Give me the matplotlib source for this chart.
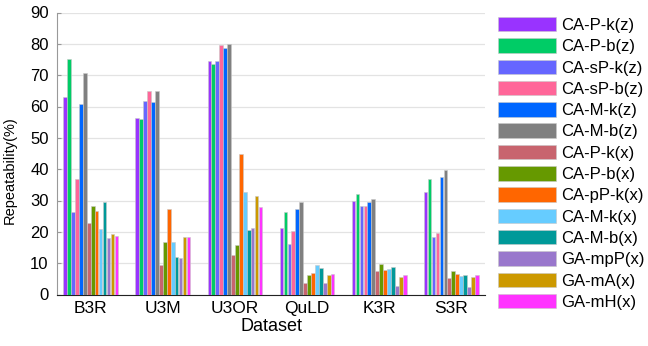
import matplotlib.pyplot as plt
import numpy as np

plt.rcParams["font.family"] = ["Liberation Sans", "DejaVu Sans"]

datasets = ["B3R", "U3M", "U3OR", "QuLD", "K3R", "S3R"]
methods = [
    "CA-P-k(z)", "CA-P-b(z)", "CA-sP-k(z)", "CA-sP-b(z)", "CA-M-k(z)", "CA-M-b(z)",
    "CA-P-k(x)", "CA-P-b(x)", "CA-pP-k(x)", "CA-M-k(x)", "CA-M-b(x)",
    "GA-mpP(x)", "GA-mA(x)", "GA-mH(x)",
]
colors = [
    "#9933ff", "#00cc66", "#6666ff", "#ff6699", "#0066ff", "#808080",
    "#c8646e", "#669900", "#ff6600", "#66ccff", "#009999",
    "#9977cc", "#cc9900", "#ff33ff",
]

# repeatability per method, one list per dataset (B3R, U3M, U3OR, QuLD, K3R, S3R)
b3r = [63.1, 75.1, 26.4, 36.9, 60.7, 70.6, 22.9, 28.3, 26.7, 21.0, 29.6, 18.1, 19.3, 18.8]
u3m = [56.2, 55.9, 61.7, 64.8, 61.4, 64.8, 9.3, 16.6, 27.4, 16.8, 11.9, 11.5, 18.4, 18.3]
u3or = [74.4, 73.6, 74.5, 79.5, 78.6, 80.0, 12.7, 15.8, 44.8, 32.8, 20.6, 21.3, 31.3, 27.9]
quld = [21.3, 26.4, 16.1, 20.4, 27.4, 29.5, 3.8, 6.3, 7.0, 9.5, 8.5, 3.7, 6.1, 6.6]
k3r = [30.0, 32.0, 28.1, 28.1, 29.4, 30.5, 7.6, 9.8, 7.9, 8.1, 8.7, 2.8, 5.5, 6.2]
s3r = [32.6, 36.8, 18.5, 19.5, 37.4, 39.7, 5.2, 7.6, 6.7, 6.0, 6.3, 2.3, 5.6, 6.2]

values = np.array([b3r, u3m, u3or, quld, k3r, s3r])

fig = plt.figure(figsize=(6.48, 3.46), dpi=100)
ax = fig.add_axes([57 / 648, 51.5 / 346, 428 / 648, 282 / 346])

x = np.arange(len(datasets))
n = len(methods)
slot = 0.77 / n
for i, (name, c) in enumerate(zip(methods, colors)):
    offs = (i - (n - 1) / 2) * slot
    ax.bar(x + offs, values[:, i], width=slot * 0.85, color=c,
           edgecolor="#c8c8c8", linewidth=0.4, label=name, zorder=3)

ax.set_xlim(-0.47, len(datasets) - 0.53)
ax.set_ylim(0, 90)
ax.set_yticks(np.arange(0, 91, 10))
ax.set_xticks(x)
ax.set_xticklabels(datasets)
ax.yaxis.grid(True, color="#e3e3e3", linewidth=0.9, zorder=0)
ax.tick_params(axis="y", direction="in", length=3, color="#999999",
               labelsize=12, pad=6)
ax.tick_params(axis="x", direction="in", length=3, labelsize=12.5, pad=5)
for s in ["top", "right"]:
    ax.spines[s].set_visible(False)
ax.spines["left"].set_color("#999999")
ax.spines["bottom"].set_color("#222222")
ax.set_xlabel("Dataset", fontsize=13, labelpad=1)
ax.set_ylabel("Repeatability(%)", fontsize=10.5)
ax.yaxis.set_label_coords(-0.095, 0.44)

fig.legend(loc="upper left", bbox_to_anchor=(498 / 648, 1 - 17 / 346),
           frameon=False, fontsize=12, handlelength=3.5, handleheight=0.96,
           labelspacing=0.32, handletextpad=0.3, borderpad=0, borderaxespad=0)

fig.savefig("out.png", dpi=100)
plt.close(fig)
